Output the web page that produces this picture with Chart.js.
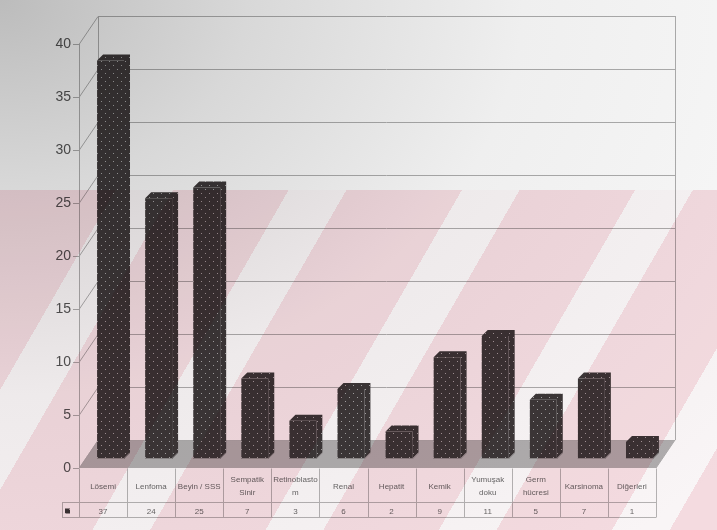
<!DOCTYPE html>
<html>
<head>
<meta charset="utf-8">
<script src="https://cdn.jsdelivr.net/npm/chart.js@4/dist/chart.umd.min.js"></script>
<style>
  body { margin: 0; width: 717px; height: 530px; overflow: hidden; }
  #wrap {
    position: relative; width: 717px; height: 530px;
    background: radial-gradient(ellipse 950px 720px at 0 0, #bcbcbc 0%, #d8d8d8 26%, #efefef 55%, #fafafa 100%);
  }
  #pink {
    position: absolute; left: 0; top: 190px; width: 717px; height: 340px;
    background: repeating-linear-gradient(120deg, #f9e0e5 0 100px, #fefafb 100px 150px);
    mix-blend-mode: multiply;
  }
  canvas { position: absolute; left: 0; top: 0; mix-blend-mode: multiply; }
</style>
</head>
<body>
<div id="wrap">
  <div id="pink"></div>
  <canvas id="c" width="717" height="530"></canvas>
</div>
<script>
// data
const categories = ['Lösemi', 'Lenfoma', 'Beyin / SSS', ['Sempatik', 'Sinir'], ['Retinoblasto', 'm'],
  'Renal', 'Hepatit', 'Kemik', ['Yumuşak', 'doku'], ['Germ', 'hücresi'], 'Karsinoma', 'Diğerleri'];
const counts = [37, 24, 25, 7, 3, 6, 2, 9, 11, 5, 7, 1];
const yTicks = [0, 5, 10, 15, 20, 25, 30, 35, 40];

// 3D offsets (px) of the front and back planes from the plane the bars stand in
const FRONT = { dx: -7.5, dy: 15.4 };
const BACK = { dx: 11.5, dy: -12.6 };
const DEPTH = 6;
const FONT = "'Liberation Sans', Arial, sans-serif";

function dots() {
  const c = document.createElement('canvas');
  c.width = c.height = 8;
  const g = c.getContext('2d');
  g.fillStyle = '#3d3839';
  g.fillRect(0, 0, 8, 8);
  g.fillStyle = '#a8a8a8';
  g.fillRect(1, 1, 1, 1);
  g.fillRect(5, 5, 1, 1);
  return g.createPattern(c, 'repeat');
}
const barFill = dots();

function line(ctx, x1, y1, x2, y2) {
  ctx.beginPath();
  ctx.moveTo(x1, y1);
  ctx.lineTo(x2, y2);
  ctx.stroke();
}

const walls = {
  id: 'walls',
  beforeDatasetsDraw(chart) {
    const ctx = chart.ctx, y = chart.scales.y, a = chart.chartArea;
    const fx0 = a.left + FRONT.dx, fx1 = a.right + FRONT.dx;
    const bx0 = a.left + BACK.dx, bx1 = a.right + BACK.dx;
    const fy = v => y.getPixelForValue(v) + FRONT.dy;
    const by = v => y.getPixelForValue(v) + BACK.dy;
    const top = yTicks[yTicks.length - 1];
    ctx.save();
    // floor
    ctx.fillStyle = '#b3b3b3';
    ctx.beginPath();
    ctx.moveTo(fx0, fy(0)); ctx.lineTo(fx1, fy(0));
    ctx.lineTo(bx1, by(0)); ctx.lineTo(bx0, by(0));
    ctx.closePath();
    ctx.fill();

    ctx.lineWidth = 1;
    ctx.strokeStyle = '#b0b0b0';
    ctx.font = '14px ' + FONT;
    ctx.fillStyle = '#555';
    ctx.textAlign = 'right';
    ctx.textBaseline = 'middle';
    yTicks.forEach(v => {
      const f = Math.round(fy(v)) + 0.5, b = Math.round(by(v)) + 0.5;
      line(ctx, bx0, b, bx1, b);
      line(ctx, fx0, f, bx0, b);
      line(ctx, fx0 - 6, f, fx0, f);
      ctx.fillText(String(v), fx0 - 8, f);
    });
    line(ctx, fx0 + 0.5, fy(0), fx0 + 0.5, fy(top));
    line(ctx, bx0 + 0.5, by(0), bx0 + 0.5, by(top));
    line(ctx, bx1 + 0.5, by(0), bx1 + 0.5, by(top));
    line(ctx, fx1, fy(0), bx1, by(0));
    ctx.restore();
  }
};

const depth = {
  id: 'depth',
  afterDatasetsDraw(chart) {
    const ctx = chart.ctx;
    ctx.save();
    ctx.fillStyle = barFill;
    ctx.strokeStyle = 'rgba(200,200,200,0.6)';
    ctx.lineWidth = 1;
    chart.getDatasetMeta(0).data.forEach(bar => {
      const l = bar.x - bar.width / 2, r = bar.x + bar.width / 2;
      const t = bar.y, b = bar.base;
      ctx.beginPath();
      ctx.moveTo(l, t); ctx.lineTo(l + DEPTH, t - DEPTH);
      ctx.lineTo(r + DEPTH, t - DEPTH); ctx.lineTo(r + DEPTH, b - DEPTH);
      ctx.lineTo(r, b); ctx.lineTo(r, t);
      ctx.closePath();
      ctx.fill();
      ctx.beginPath();
      ctx.moveTo(l, b - 0.5); ctx.lineTo(r, b - 0.5); ctx.lineTo(r + DEPTH, b - DEPTH - 0.5);
      ctx.stroke();
    });
    ctx.restore();
  }
};

const table = {
  id: 'table',
  afterDraw(chart) {
    const ctx = chart.ctx, y = chart.scales.y, a = chart.chartArea;
    const n = categories.length;
    const fx0 = a.left + FRONT.dx, fx1 = a.right + FRONT.dx;
    const cw = (fx1 - fx0) / n;
    const top = Math.round(y.getPixelForValue(0) + FRONT.dy) + 0.5;
    const mid = top + 34, bot = top + 49, keyX = fx0 - 17;
    ctx.save();
    ctx.strokeStyle = '#b8b8b8';
    ctx.lineWidth = 1;
    for (let i = 0; i <= n; i++) {
      const xx = Math.round(fx0 + i * cw) + 0.5;
      line(ctx, xx, top, xx, bot);
    }
    line(ctx, keyX, mid, fx1, mid);
    line(ctx, keyX, bot, fx1, bot);
    line(ctx, keyX + 0.5, mid, keyX + 0.5, bot);
    // legend key
    ctx.fillStyle = barFill;
    ctx.fillRect(keyX + 3, mid + 6, 5, 5);

    ctx.fillStyle = '#6a6a6a';
    ctx.font = '8px ' + FONT;
    ctx.textAlign = 'center';
    ctx.textBaseline = 'middle';
    categories.forEach((c, i) => {
      const cx = fx0 + (i + 0.5) * cw;
      if (Array.isArray(c)) {
        ctx.fillText(c[0], cx, top + 11.5);
        ctx.fillText(c[1], cx, top + 24.5);
      } else {
        ctx.fillText(c, cx, top + 18);
      }
      ctx.fillText(String(counts[i]), cx, mid + 9);
    });
    ctx.restore();
  }
};

new Chart(document.getElementById('c'), {
  type: 'bar',
  data: {
    labels: categories,
    datasets: [{
      data: counts,
      backgroundColor: barFill,
      borderWidth: 0,
      barPercentage: 0.56,
      categoryPercentage: 1,
      base: -0.6
    }]
  },
  options: {
    responsive: false,
    animation: false,
    events: [],
    layout: { padding: { left: 86.5, right: 53.5, top: 28.6, bottom: 71 } },
    scales: {
      x: { display: false },
      y: { display: false, min: -0.6, max: 40 }
    },
    plugins: { legend: { display: false }, tooltip: { enabled: false } }
  },
  plugins: [walls, depth, table]
});
</script>
</body>
</html>
